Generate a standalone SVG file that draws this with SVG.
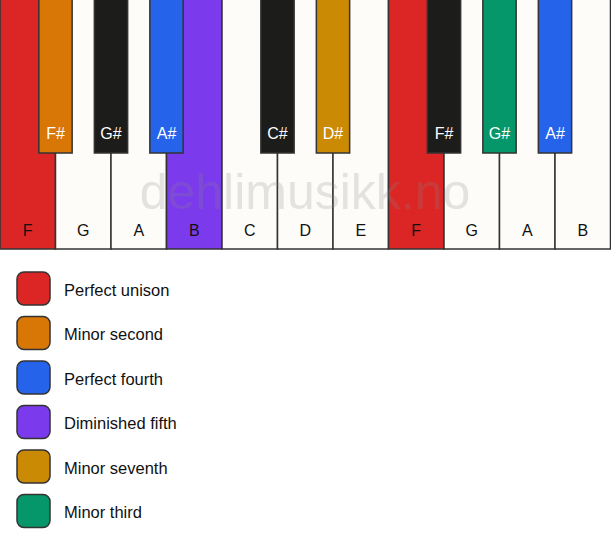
<svg xmlns="http://www.w3.org/2000/svg" width="611" height="550" viewBox="0 0 611 550">
<style>
.w{fill:#fdfcf9;stroke:#333;stroke-width:1.5}
.b{stroke:#333;stroke-width:1.5}
.lw{font-family:"Liberation Sans",Arial,sans-serif;font-size:16px;fill:#111;text-anchor:middle}
.lb{font-family:"Liberation Sans",Arial,sans-serif;font-size:16px;fill:#fff;text-anchor:middle}
.sw{stroke:#333;stroke-width:1.5}
.lt{font-family:"Liberation Sans",Arial,sans-serif;font-size:16.5px;fill:#111}
.wm{font-family:"Liberation Sans",Arial,sans-serif;font-size:50px;fill:#888;fill-opacity:0.22;text-anchor:middle}
</style>
<rect width="611" height="550" fill="#fff"/>
<g id="white-keys">
<g id="key-F1"><rect class="w" x="0" y="-2" width="55.5" height="251" style="fill:#dc2626"/><text class="lw" x="27.75" y="236">F</text></g>
<g id="key-G1"><rect class="w" x="55.5" y="-2" width="55.5" height="251"/><text class="lw" x="83.25" y="236">G</text></g>
<g id="key-A1"><rect class="w" x="111" y="-2" width="55.5" height="251"/><text class="lw" x="138.75" y="236">A</text></g>
<g id="key-B1"><rect class="w" x="166.5" y="-2" width="55.5" height="251" style="fill:#7c3aed"/><text class="lw" x="194.25" y="236">B</text></g>
<g id="key-C"><rect class="w" x="222" y="-2" width="55.5" height="251"/><text class="lw" x="249.75" y="236">C</text></g>
<g id="key-D"><rect class="w" x="277.5" y="-2" width="55.5" height="251"/><text class="lw" x="305.25" y="236">D</text></g>
<g id="key-E"><rect class="w" x="333" y="-2" width="55.5" height="251"/><text class="lw" x="360.75" y="236">E</text></g>
<g id="key-F2"><rect class="w" x="388.5" y="-2" width="55.5" height="251" style="fill:#dc2626"/><text class="lw" x="416.25" y="236">F</text></g>
<g id="key-G2"><rect class="w" x="444" y="-2" width="55.5" height="251"/><text class="lw" x="471.75" y="236">G</text></g>
<g id="key-A2"><rect class="w" x="499.5" y="-2" width="55.5" height="251"/><text class="lw" x="527.25" y="236">A</text></g>
<g id="key-B2"><rect class="w" x="555" y="-2" width="55.5" height="251"/><text class="lw" x="582.75" y="236">B</text></g>
</g>
<g id="black-keys">
<g id="key-Fs1"><rect class="b" x="38.85" y="-2" width="33.3" height="155" fill="#d97706"/><text class="lb" x="55.5" y="139">F#</text></g>
<g id="key-Gs1"><rect class="b" x="94.35" y="-2" width="33.3" height="155" fill="#1c1c1a"/><text class="lb" x="111" y="139">G#</text></g>
<g id="key-As1"><rect class="b" x="149.85" y="-2" width="33.3" height="155" fill="#2563eb"/><text class="lb" x="166.5" y="139">A#</text></g>
<g id="key-Cs"><rect class="b" x="260.85" y="-2" width="33.3" height="155" fill="#1c1c1a"/><text class="lb" x="277.5" y="139">C#</text></g>
<g id="key-Ds"><rect class="b" x="316.35" y="-2" width="33.3" height="155" fill="#ca8a04"/><text class="lb" x="333" y="139">D#</text></g>
<g id="key-Fs2"><rect class="b" x="427.35" y="-2" width="33.3" height="155" fill="#1c1c1a"/><text class="lb" x="444" y="139">F#</text></g>
<g id="key-Gs2"><rect class="b" x="482.85" y="-2" width="33.3" height="155" fill="#059669"/><text class="lb" x="499.5" y="139">G#</text></g>
<g id="key-As2"><rect class="b" x="538.35" y="-2" width="33.3" height="155" fill="#2563eb"/><text class="lb" x="555" y="139">A#</text></g>
</g>
<text class="wm" x="305" y="209">dehlimusikk.no</text>
<g id="legend">
<g id="legend-unison"><rect class="sw" x="17" y="272" width="33" height="33" rx="7" fill="#dc2626"/><text class="lt" x="64" y="296">Perfect unison</text></g>
<g id="legend-minor-second"><rect class="sw" x="17" y="316.5" width="33" height="33" rx="7" fill="#d97706"/><text class="lt" x="64" y="340">Minor second</text></g>
<g id="legend-fourth"><rect class="sw" x="17" y="361" width="33" height="33" rx="7" fill="#2563eb"/><text class="lt" x="64" y="385">Perfect fourth</text></g>
<g id="legend-dim-fifth"><rect class="sw" x="17" y="405.5" width="33" height="33" rx="7" fill="#7c3aed"/><text class="lt" x="64" y="429">Diminished fifth</text></g>
<g id="legend-minor-seventh"><rect class="sw" x="17" y="450" width="33" height="33" rx="7" fill="#ca8a04"/><text class="lt" x="64" y="474">Minor seventh</text></g>
<g id="legend-minor-third"><rect class="sw" x="17" y="494.5" width="33" height="33" rx="7" fill="#059669"/><text class="lt" x="64" y="518">Minor third</text></g>
</g>
</svg>
